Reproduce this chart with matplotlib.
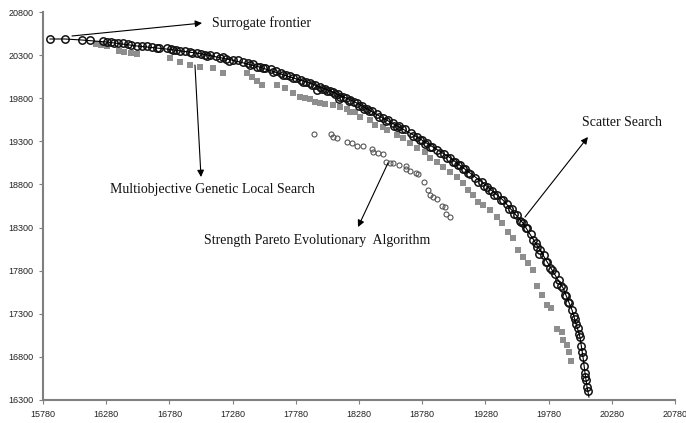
import numpy as np
import matplotlib
matplotlib.use("Agg")
import matplotlib.pyplot as plt

#Surrogate frontier (polyline)
sf_x = [15835, 15954, 16089, 16286, 16524, 16761, 17022, 17283, 17497, 17734, 17892, 18074,
        18264, 18470, 18739, 19000, 19250, 19419, 19577, 19712, 19807, 19894, 19965, 20028,
        20052, 20068, 20084, 20099]
sf_y = [20487, 20487, 20475, 20452, 20406, 20370, 20318, 20240, 20160, 20046, 19976, 19872,
        19744, 19570, 19350, 19110, 18830, 18619, 18352, 18039, 17807, 17600, 17343, 17030,
        16798, 16612, 16450, 16334]

#Scatter Search solutions
ss_x = [15835, 15954, 16089, 16255, 16286, 16320, 16373, 16410, 16450, 16524, 16560, 16600,
        16642, 16700, 16761, 16790, 16830, 16864, 16900, 16940, 16998, 17030, 17101, 17150,
        17200, 17283, 17320, 17360, 17400, 17440, 17497, 17540, 17580, 17620, 17660, 17700,
        17734, 17780, 17820, 17860, 17892, 17930, 17970, 18010, 18050, 18074, 18110, 18150,
        18180, 18209, 18240, 18264, 18300, 18340, 18380, 18420, 18470, 18510, 18550, 18600,
        18640, 18690, 18739, 18780, 18820, 18860, 18900, 18950, 19000, 19040, 19080, 19120,
        19160, 19200, 19250, 19290, 19330, 19370, 19419, 19450, 19490, 19530, 19577, 19610,
        19640, 19680, 19712, 19740, 19770, 19807, 19830, 19860, 19894, 19920, 19945, 19965,
        19990, 20010, 20028, 20040, 20052, 20060, 20068, 20075, 20084, 20088,
        17080, 17250, 17600, 17950, 18120, 18320, 18560, 18800, 19060, 19310, 19550, 19700,
        19850, 19930, 20000,
        16150, 16340, 16480, 16680, 16810, 16960, 17060, 17180, 17230, 17420, 17470, 17520,
        17680, 17760, 17840, 17910, 17990, 18030, 18090, 18130, 18200, 18280, 18360, 18440,
        18490, 18580, 18620, 18710, 18760, 18840, 18920, 18980, 19020, 19100, 19140, 19220,
        19270, 19350, 19400, 19470, 19510, 19560, 19600, 19660, 19690, 19760, 19790, 19880,
        19910, 19980, 20020, 20045, 20070]
ss_y = [20487, 20487, 20480, 20462, 20455, 20450, 20442, 20435, 20425, 20410, 20405, 20400,
        20395, 20385, 20378, 20370, 20362, 20350, 20345, 20338, 20328, 20318, 20305, 20292,
        20275, 20248, 20238, 20225, 20205, 20192, 20168, 20150, 20135, 20112, 20095, 20072,
        20055, 20030, 20012, 19990, 19976, 19955, 19930, 19905, 19885, 19870, 19845, 19820,
        19798, 19780, 19760, 19742, 19712, 19680, 19648, 19612, 19572, 19545, 19515, 19475,
        19445, 19400, 19355, 19320, 19285, 19240, 19200, 19155, 19108, 19065, 19020, 18975,
        18925, 18875, 18825, 18775, 18725, 18675, 18615, 18570, 18510, 18440, 18350, 18290,
        18220, 18120, 18040, 17980, 17900, 17810, 17760, 17690, 17600, 17510, 17420, 17345,
        17240, 17130, 17030, 16930, 16800, 16700, 16612, 16530, 16450, 16400,
        20290, 20230, 20100, 19900, 19790, 19680, 19480, 19270, 19030, 18730, 18380, 17990,
        17650, 17440, 17180,
        20470, 20440, 20412, 20383, 20362, 20330, 20305, 20270, 20258, 20185, 20165, 20145,
        20070, 20030, 19985, 19955, 19905, 19880, 19845, 19815, 19770, 19715, 19650, 19580,
        19540, 19470, 19440, 19360, 19320, 19240, 19165, 19110, 19065, 18975, 18930, 18830,
        18780, 18680, 18620, 18520, 18460, 18360, 18290, 18150, 18080, 17900, 17830, 17620,
        17520, 17270, 17060, 16860, 16570]

#Multiobjective Genetic Local Search solutions
mogls_x = [16200, 16240, 16290, 16380, 16420, 16480, 16524, 16785, 16864, 16943, 17022, 17125,
           17204, 17394, 17433, 17473, 17513, 17631, 17694, 17757, 17813, 17853, 17892, 17932,
           17971, 18011, 18074, 18130, 18185, 18209, 18248, 18288, 18367, 18407, 18470, 18501,
           18580, 18628, 18683, 18739, 18802, 18842, 18897, 18944, 19000, 19055, 19103, 19142,
           19182, 19221, 19261, 19316, 19372, 19411, 19459, 19498, 19538, 19577, 19617, 19656,
           19688, 19728, 19767, 19799, 19846, 19886, 19894, 19925, 19941, 19957]
mogls_y = [20430, 20420, 20400, 20345, 20340, 20320, 20310, 20266, 20220, 20185, 20162, 20150,
           20092, 20092, 20046, 19999, 19953, 19953, 19918, 19860, 19814, 19802, 19791, 19756,
           19744, 19733, 19721, 19698, 19675, 19640, 19640, 19582, 19547, 19489, 19466, 19431,
           19373, 19338, 19280, 19222, 19176, 19106, 19060, 19002, 18944, 18886, 18816, 18735,
           18677, 18596, 18561, 18503, 18422, 18352, 18248, 18178, 18039, 17958, 17888, 17807,
           17622, 17517, 17401, 17366, 17123, 17088, 16995, 16937, 16856, 16751]

#Strength Pareto Evolutionary Algorithm solutions
spea_x = [17924, 18058, 18074, 18106, 18185, 18224, 18264, 18312, 18383, 18391, 18430, 18470,
          18493, 18525, 18549, 18596, 18652, 18652, 18683, 18731, 18747, 18794, 18826, 18842,
          18865, 18897, 18936, 18960, 18968, 19000]
spea_y = [19385, 19385, 19350, 19338, 19292, 19280, 19246, 19246, 19211, 19176, 19164, 19153,
          19060, 19048, 19048, 19025, 19014, 18979, 18956, 18932, 18921, 18828, 18735, 18677,
          18654, 18631, 18550, 18538, 18457, 18422]

x_ticks = [15780, 16280, 16780, 17280, 17780, 18280, 18780, 19280, 19780, 20280, 20780]
y_ticks = [16300, 16800, 17300, 17800, 18300, 18800, 19300, 19800, 20300, 20800]

fig = plt.figure(figsize=(6.86, 4.23), dpi=100)
ax = fig.add_axes([0.0627, 0.0544, 0.9213, 0.9172])

ax.plot(mogls_x, mogls_y, linestyle="none", marker="s", markersize=4.7,
        color="#8e8e8e", markeredgewidth=0)
ax.plot(spea_x, spea_y, linestyle="none", marker="o", markersize=3.6,
        markerfacecolor="none", markeredgecolor="#555555", markeredgewidth=0.8)
ax.plot(ss_x, ss_y, linestyle="none", marker="o", markersize=5.3,
        markerfacecolor="none", markeredgecolor="#111111", markeredgewidth=1.1)
ax.plot(sf_x, sf_y, color="black", linewidth=0.8)

ax.set_xlim(15780, 20780)
ax.set_ylim(16300, 20800)
ax.set_xticks(x_ticks)
ax.set_yticks(y_ticks)
ax.tick_params(labelsize=6.5, length=3, width=0.8, color="#808080", pad=4,
               labelcolor="#222222")
for lab in ax.get_xticklabels() + ax.get_yticklabels():
    lab.set_family("Liberation Sans")
for side in ["top", "right"]:
    ax.spines[side].set_visible(False)
for side in ["left", "bottom"]:
    ax.spines[side].set_color("#808080")
    ax.spines[side].set_linewidth(1.5)

#Labels with arrows
arrow = dict(arrowstyle="-|>", color="black", lw=0.8, mutation_scale=10, shrinkA=0, shrinkB=0)
txt = dict(family="Liberation Serif", fontsize=10, color="#111111", va="center")
ax.annotate("", xy=(17038, 20672), xytext=(16009, 20522), arrowprops=arrow)
ax.text(17117, 20672, "Surrogate frontier", **txt)
ax.annotate("", xy=(17030, 18886), xytext=(16982, 20185), arrowprops=arrow)
ax.text(16310, 18747, "Multiobjective Genetic Local Search", **txt)
ax.annotate("", xy=(18272, 18306), xytext=(18509, 19048), arrowprops=arrow)
ax.text(17054, 18155, "Strength Pareto Evolutionary  Algorithm", **txt)
ax.annotate("", xy=(20091, 19350), xytext=(19593, 18422), arrowprops=arrow)
ax.text(20044, 19524, "Scatter Search", **txt)

plt.savefig("out.png", dpi=100)
